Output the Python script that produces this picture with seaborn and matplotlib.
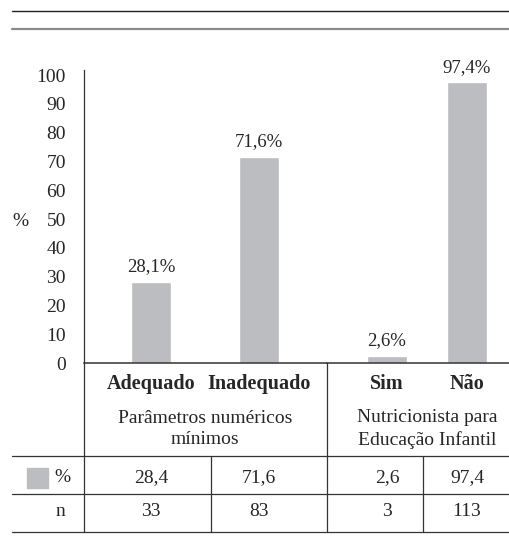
import matplotlib
matplotlib.use("Agg")
import matplotlib.pyplot as plt
import matplotlib.transforms as mtransforms
from matplotlib.lines import Line2D
from matplotlib.patches import Rectangle
import seaborn as sns
import pandas as pd

# data
param_cats = ["Adequado", "Inadequado"]
param_pct = [28.1, 71.6]
nutri_cats = ["Sim", "Não"]
nutri_pct = [2.6, 97.4]
group_labels = ["Parâmetros numéricos\nmínimos", "Nutricionista para\nEducação Infantil"]
table_pct = [["28,4", "71,6"], ["2,6", "97,4"]]
table_n = [["33", "83"], ["3", "113"]]
yticks = [0, 10, 20, 30, 40, 50, 60, 70, 80, 90, 100]

sns.set_theme(style="white")
plt.rcParams["font.family"] = ["Liberation Serif", "DejaVu Serif"]
plt.rcParams["font.size"] = 14

W, H = 509, 541
BAR = "#bcbdc0"
LINE = "#333333"
FS = 14

fig = plt.figure(figsize=(W / 100, H / 100), dpi=100)


def fx(px):
    return px / W


def fy(py):
    return 1 - py / H


def hline(y, x0=12, x1=509, color=LINE, lw=0.9):
    fig.add_artist(Line2D([fx(x0), fx(x1)], [fy(y), fy(y)], color=color, lw=lw))


def vline(x, y0, y1, color=LINE, lw=0.9):
    fig.add_artist(Line2D([fx(x), fx(x)], [fy(y0), fy(y1)], color=color, lw=lw))


# axes boxes in pixels
top_px, base_px = 70, 363
ax1 = fig.add_axes([fx(84), fy(base_px), fx(327) - fx(84), fy(top_px) - fy(base_px)])
ax2 = fig.add_axes([fx(327), fy(base_px), fx(509) - fx(327), fy(top_px) - fy(base_px)])

df1 = pd.DataFrame({"cat": param_cats, "pct": param_pct})
df2 = pd.DataFrame({"cat": nutri_cats, "pct": nutri_pct})
sns.barplot(data=df1, x="cat", y="pct", color=BAR, width=0.37, saturation=1, ax=ax1)
sns.barplot(data=df2, x="cat", y="pct", color=BAR, width=0.5, saturation=1, ax=ax2)

ax1.set_xlim(-0.62, 1.63)
ax2.set_xlim(-0.75, 1.525)
ymax = 100 + (75 - top_px) / ((base_px - 75) / 100)
for ax in (ax1, ax2):
    ax.set_ylim(0, ymax)
    ax.set_xlabel("")
    ax.set_ylabel("")
    for s in ("top", "right"):
        ax.spines[s].set_visible(False)
    ax.spines["bottom"].set_color(LINE)
    ax.spines["bottom"].set_linewidth(1.1)
    ax.tick_params(axis="x", length=0, pad=8)
    for lab in ax.get_xticklabels():
        lab.set_fontweight("bold")
        lab.set_fontsize(14.5)
    for p in ax.patches:
        h = p.get_height()
        ax.annotate(f"{h:.1f}%".replace(".", ","),
                    (p.get_x() + p.get_width() / 2, h),
                    xytext=(0, 11), textcoords="offset points",
                    ha="center", va="center", fontsize=13.5)

ax1.spines["left"].set_color(LINE)
ax1.spines["left"].set_linewidth(0.9)
ax1.set_yticks(yticks)
ax1.set_yticklabels([str(t) for t in yticks], fontsize=FS)
ax1.tick_params(axis="y", length=0, pad=13)
ax2.spines["left"].set_visible(False)
ax2.set_yticks([])

fig.text(fx(20), fy(222), "%", ha="center", va="center", fontsize=FS)

# frame lines of the table
hline(11, lw=1.0, color="#222222")
hline(29, lw=1.6, color="#8a8a8a")
hline(456)
hline(494)
hline(532)
vline(84, base_px, 532)
vline(327, base_px, 532)
vline(211, 456, 532)
vline(423, 456, 532)

# group names and table rows
for ax, glabel, pcts, ns in zip((ax1, ax2), group_labels, table_pct, table_n):
    tr = mtransforms.blended_transform_factory(ax.transData, fig.transFigure)
    ax.text(0.5, fy(429), glabel, transform=tr, ha="center", va="center",
            fontsize=FS, linespacing=1.35, clip_on=False)
    for i, (p, n) in enumerate(zip(pcts, ns)):
        ax.text(i, fy(478), p, transform=tr, ha="center", va="center", fontsize=FS, clip_on=False)
        ax.text(i, fy(512), n, transform=tr, ha="center", va="center", fontsize=FS, clip_on=False)

fig.add_artist(Rectangle((fx(27), fy(488)), fx(48) - fx(27), fy(468) - fy(488), color=BAR))
fig.text(fx(62), fy(478), "%", ha="center", va="center", fontsize=FS)
fig.text(fx(60), fy(512), "n", ha="center", va="center", fontsize=FS)

fig.savefig("out.png", dpi=100)
